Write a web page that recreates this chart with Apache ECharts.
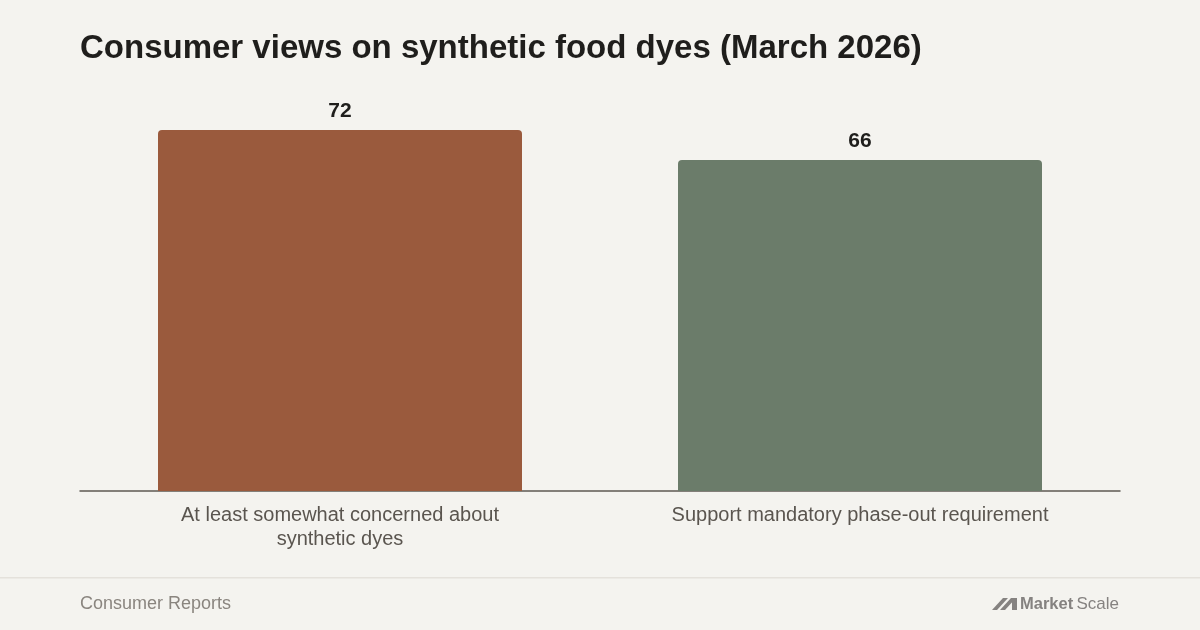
<!DOCTYPE html>
<html><head><meta charset="utf-8">
<script src="https://cdn.jsdelivr.net/npm/echarts@6/dist/echarts.min.js"></script>
<style>html,body{margin:0;padding:0;background:#f4f3ef;}#c{width:1200px;height:630px;}</style>
</head><body><div id="c"></div>
<script>
const categories = ['At least somewhat concerned about\nsynthetic dyes', 'Support mandatory phase-out requirement'];
const values = [72, 66];
const colors = ['#9a5a3d', '#6b7c6a'];
const titleText = 'Consumer views on synthetic food dyes (March 2026)';
const sourceText = 'Consumer Reports';
const yMax = 72;

const chart = echarts.init(document.getElementById('c'), null, {renderer: 'canvas'});
chart.setOption({
  backgroundColor: '#f4f3ef',
  animation: false,
  title: {
    text: titleText, left: 75, top: 27,
    textStyle: {fontFamily: 'Liberation Sans, Arial, sans-serif', fontSize: 33, fontWeight: 'bold', color: '#1f1e1c'}
  },
  grid: {left: 80, right: 80, top: 130, bottom: 139},
  xAxis: {
    type: 'category', data: categories,
    axisLine: {lineStyle: {color: '#5e5953', width: 1.5}},
    axisTick: {show: false},
    axisLabel: {fontFamily: 'Liberation Sans, Arial, sans-serif', fontSize: 20, color: '#5a554f', lineHeight: 24, margin: 12, interval: 0}
  },
  yAxis: {type: 'value', min: 0, max: yMax, show: false, splitLine: {show: false}},
  series: [{
    type: 'bar', barWidth: '70%',
    data: values.map((v, i) => ({value: v, itemStyle: {color: colors[i], borderRadius: [4, 4, 0, 0]}})),
    label: {show: true, position: 'top', distance: 8, fontFamily: 'Liberation Sans, Arial, sans-serif', fontSize: 21, fontWeight: 'bold', color: '#1f1e1c'}
  }],
  graphic: [
    {type: 'rect', shape: {x: 0, y: 577, width: 1200, height: 1.5}, style: {fill: '#e4e1db'}, silent: true},
    {type: 'text', left: 80, top: 595, style: {text: sourceText, fontFamily: 'Liberation Sans, Arial, sans-serif', fontSize: 18, fill: '#8a857f'}},
    {type: 'polygon', shape: {points: [[992, 610], [1003, 598], [1008, 598], [997, 610]]}, style: {fill: '#858280'}},
    {type: 'polygon', shape: {points: [[1000, 610], [1011, 598], [1016, 598], [1005, 610]]}, style: {fill: '#858280'}},
    {type: 'polygon', shape: {points: [[1012, 598], [1017, 598], [1017, 610], [1012, 610]]}, style: {fill: '#858280'}},
    {type: 'text', left: 1020, top: 596, style: {text: 'Market', fontFamily: 'Liberation Sans, Arial, sans-serif', fontSize: 16.5, fontWeight: 'bold', fill: '#858280'}},
    {type: 'text', right: 81, top: 596, style: {text: 'Scale', fontFamily: 'Liberation Sans, Arial, sans-serif', fontSize: 17, fill: '#858280'}}
  ]
});
</script></body></html>
